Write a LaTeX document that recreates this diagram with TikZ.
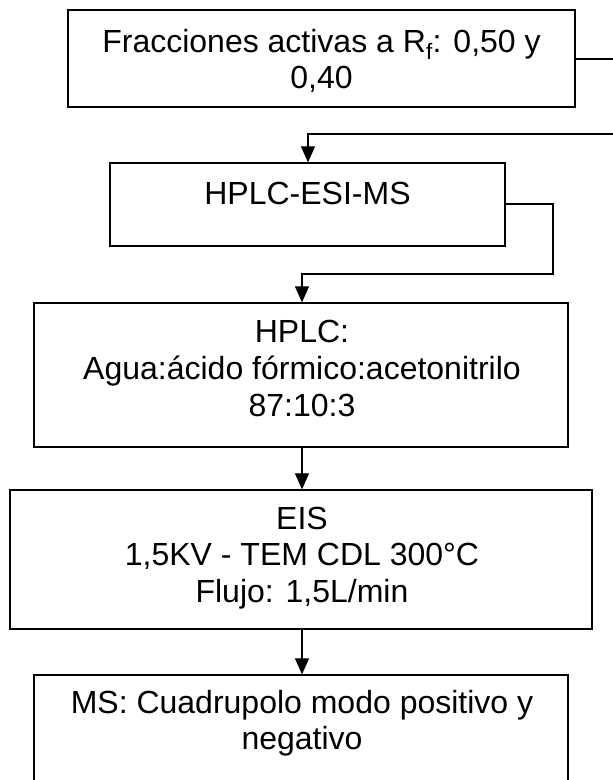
\documentclass[tikz,border=0pt]{standalone}
\usepackage{fontspec}
\setmainfont{Liberation Sans}
\usetikzlibrary{arrows.meta}
\tikzset{
  box/.style={draw=black, line width=1.3pt, fill=none, rectangle, inner sep=0pt},
  txt/.style={font=\fontsize{32}{36.8}\selectfont, align=center, inner sep=0pt, anchor=base},
  link/.style={draw=black, line width=1.2pt},
  flow/.style={link, -{Triangle[length=16pt, width=14pt]}}
}
\begin{document}
\begin{tikzpicture}[x=1pt, y=-1pt]
\useasboundingbox (0,0) rectangle (613,780);
\clip (0,0) rectangle (613,780);
% boxes
\node[box, minimum width=507pt, minimum height=97pt] (b1) at (321.5,58.5) {};
\node[box, minimum width=395pt, minimum height=83pt] (b2) at (307.5,204.5) {};
\node[box, minimum width=534pt, minimum height=144pt] (b3) at (301,375) {};
\node[box, minimum width=582pt, minimum height=139pt] (b4) at (301,559.5) {};
\node[box, minimum width=534pt, minimum height=120pt] (b5) at (301,735) {};
% texts (anchored at the baseline of their last line)
\node[txt] (t1) at (321.5,88.8) {Fracciones activas a R\textsubscript{f}: 0,50 y\\0,40};
\node[txt] (t2) at (307.5,204) {HPLC-ESI-MS};
\node[txt] (t3) at (302,416.3) {HPLC:\\Agua:ácido fórmico:acetonitrilo\\87:10:3};
\node[txt] (t4) at (302,602.6) {EIS\\1,5KV - TEM CDL 300°C\\Flujo: 1,5L/min};
\node[txt] (t5) at (302,749.8) {MS: Cuadrupolo modo positivo y\\negativo};
% connectors
\coordinate (c1) at (630,59);
\coordinate (c2) at (630,134);
\coordinate (c3) at (553,204);
\coordinate (c4) at (553,274);
\draw[flow] (b1.east |- 0,59) -- (c1) -- (c2) -- (308,134) -- (308,0 |- b2.north);
\draw[flow] (b2.east |- 0,204) -- (c3) -- (c4) -- (302,274) -- (302,0 |- b3.north);
\draw[flow] (302,0 |- b3.south) -- (302,0 |- b4.north);
\draw[flow] (302,0 |- b4.south) -- (302,0 |- b5.north);
\end{tikzpicture}
\end{document}
